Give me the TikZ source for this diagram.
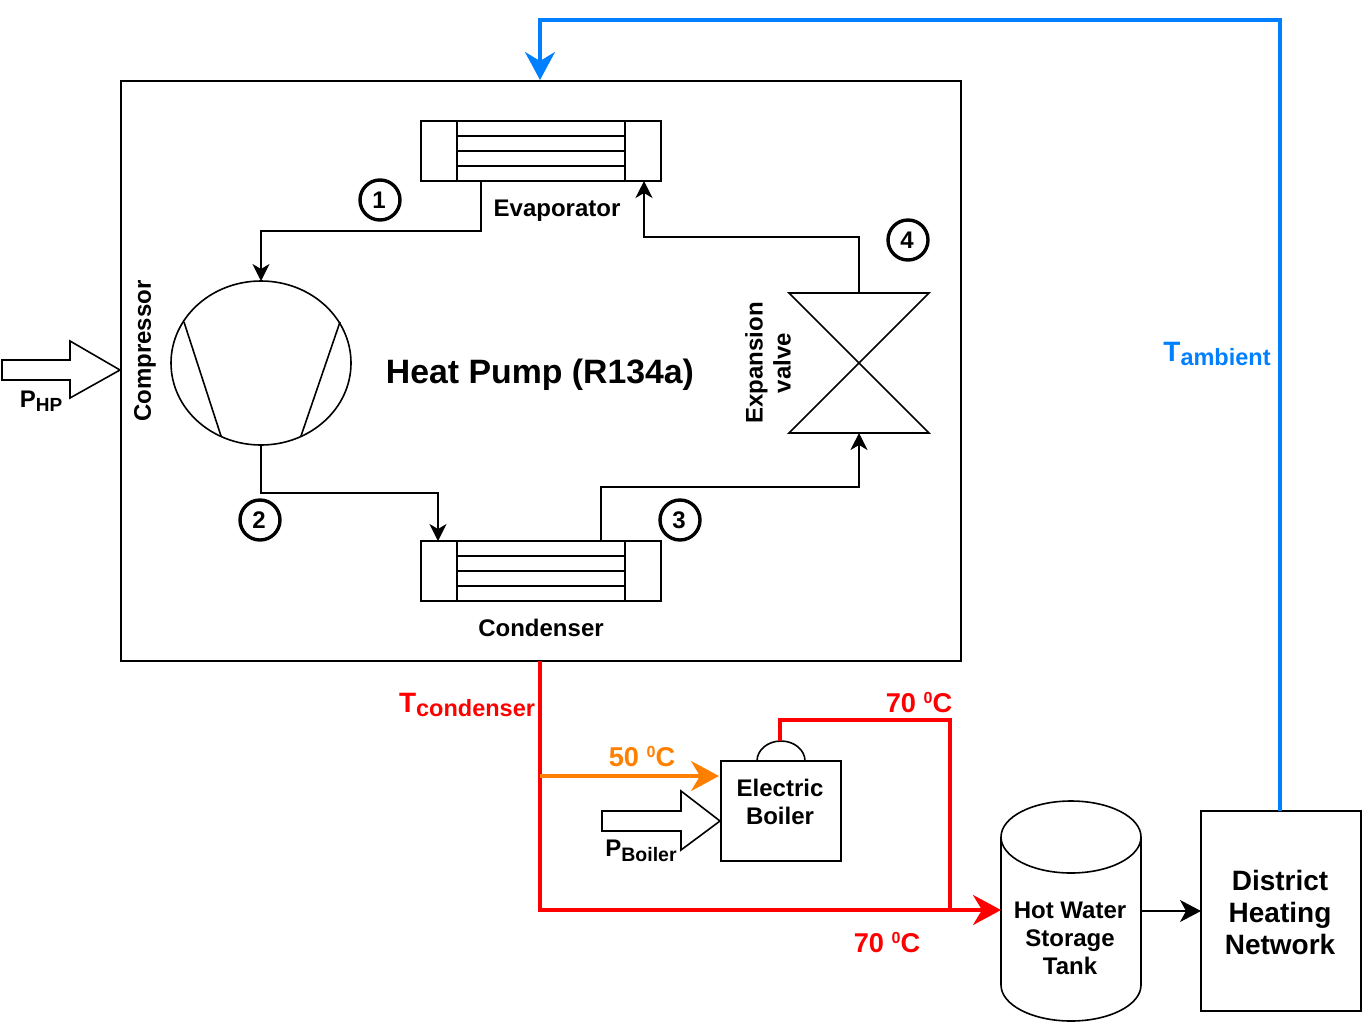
\documentclass[tikz,border=0pt]{standalone}
\usepackage{fontspec}
\setmainfont{Liberation Sans}
\usetikzlibrary{arrows.meta, shapes.geometric}
\definecolor{hotred}{HTML}{FF0000}
\definecolor{warmorange}{HTML}{FF8000}
\definecolor{coldblue}{HTML}{007FFF}
\newcommand{\symsub}[4]{{\fontsize{#1}{#1}\selectfont\bfseries #2}\lower4.5pt\hbox{\fontsize{#3}{#3}\selectfont\bfseries #4}}
\newcommand{\degtxt}[1]{{\fontsize{27.2}{28}\selectfont\bfseries #1 \raisebox{9pt}{\fontsize{16}{16}\selectfont\bfseries 0}C}}
\tikzset{
  wire/.style={line width=1.6pt, line join=miter},
  tipsmall/.style={-{Stealth[length=17pt, width=17pt, inset=5pt]}},
  tipmid/.style={-{Stealth[length=21pt, width=22pt, inset=6pt]}},
  tipbig/.style={-{Stealth[length=28pt, width=30pt, inset=9pt]}},
  pipe/.style={line width=3.6pt, miter limit=10},
  unit/.style={draw, line width=1.6pt, inner sep=0pt, outer sep=0pt, align=center},
  ghost/.style={inner sep=0pt, outer sep=0pt},
  lbl/.style={inner sep=0pt, align=center, font=\fontsize{24}{28}\selectfont\bfseries},
  statept/.style={circle, draw, line width=3.4pt, minimum size=40pt, inner sep=0pt, font=\fontsize{24}{24}\selectfont\bfseries},
}
\begin{document}
\begin{tikzpicture}[x=1pt, y=-1pt]
        \useasboundingbox (0,0) rectangle (1364,1026);
        % Heat pump frame
        \node[unit, minimum width=840, minimum height=580] (hpbox) at (541,371) {};
        \node[lbl, font=\fontsize{33.8}{36}\selectfont\bfseries] (hptitle) at (540,375) {Heat Pump (R134a)};
        % Evaporator
        \node[unit, minimum width=240, minimum height=60] (evap) at (541,151) {};
        \draw[wire] (457,121) -- (457,181);
        \draw[wire] (625,121) -- (625,181);
        \foreach \y in {136,151,166} {
          \draw[wire] (457,\y) -- (625,\y);
        }
        \coordinate (evapout) at (481,181);
        \coordinate (evapin) at (645,181);
        \node[lbl] (evaplbl) at (557,211) {Evaporator};
        % Condenser
        \node[unit, minimum width=240, minimum height=60] (cond) at (541,571) {};
        \draw[wire] (457,541) -- (457,601);
        \draw[wire] (625,541) -- (625,601);
        \foreach \y in {556,571,586} {
          \draw[wire] (457,\y) -- (625,\y);
        }
        \coordinate (condin) at (438,541);
        \coordinate (condout) at (601,541);
        \node[lbl] (condlbl) at (541,628) {Condenser};
        % Compressor
        \node[unit, ellipse, minimum width=180, minimum height=164] (comp) at (261,363) {};
        \draw[wire] (184,322) -- (221,436);
        \draw[wire] (340,322) -- (301,436);
        \node[lbl, rotate=90] (complbl) at (145,351) {Compressor};
        % Expansion valve
        \node[ghost, minimum width=140, minimum height=140] (valve) at (859,363) {};
        \draw[wire] (789,293) -- (929,293) -- (789,433) -- (929,433) -- cycle;
        \node[lbl, rotate=90] (valvelbl) at (768,363) {Expansion\\valve};
        % Refrigerant loop
        \draw[wire, tipsmall] (evapout) -- (481,231) -- (261,231) -- (comp.north);
        \draw[wire, tipsmall] (comp.south) -- (261,493) -- (438,493) -- (condin);
        \draw[wire, tipsmall] (condout) -- (601,487) -- (859,487) -- (valve.south);
        \draw[wire, tipsmall] (valve.north) -- (859,237) -- (644,237) -- (evapin -| 644,0);
        % State points
        \node[statept] (st1) at (380,200) {\kern-2pt 1};
        \node[statept] (st2) at (260,520) {\kern-2pt 2};
        \node[statept] (st3) at (680,520) {\kern-2pt 3};
        \node[statept] (st4) at (908,240) {\kern-2pt 4};
        % Power inputs
        \draw[wire, fill=white] (2,360) -- (70,360) -- (70,341) -- (120,370) -- (70,398) -- (70,380) -- (2,380) -- cycle;
        \node[lbl] (phplbl) at (41,401) {\symsub{24}{P}{19}{HP}};
        \draw[wire, fill=white] (602,811) -- (681,811) -- (681,791) -- (720,821) -- (681,850) -- (681,831) -- (602,831) -- cycle;
        \node[lbl] (pboilerlbl) at (641,851) {\symsub{24}{P}{19.5}{Boiler}};
        % Boiler, tank and network
        \node[unit, minimum width=120, minimum height=100] (boiler) at (781,811) {};
        \node[lbl] (boilerlbl) at (780,802) {Electric\\Boiler};
        \draw[wire] (757,761) arc[start angle=180, end angle=0, x radius=24pt, y radius=20pt];
        \coordinate (dome) at (780,741);
        \node[ghost, minimum width=140, minimum height=220] (tank) at (1071,911) {};
        \draw[wire] (1001,837) arc[start angle=180, end angle=-180, x radius=70pt, y radius=36pt];
        \draw[wire] (1001,837) -- (1001,985) arc[start angle=180, end angle=360, x radius=70pt, y radius=36pt] -- (1141,837);
        \node[lbl] (tanklbl) at (1070,938) {Hot Water\\Storage\\Tank};
        \node[unit, minimum width=160, minimum height=200] (dhn) at (1281,911) {};
        \node[lbl, font=\fontsize{28}{32}\selectfont\bfseries] (dhnlbl) at (1280,912) {District\\Heating\\Network};
        \draw[wire, tipmid] (tank.east) -- (dhn.west);
        % Hot water lines
        \draw[pipe, hotred, tipbig] (540,661) -- (540,910) -- (tank.west |- 0,910);
        \draw[pipe, warmorange, tipbig] (540,776) -- (719,776);
        \draw[pipe, hotred] (dome) -- (780,720) -- (950,720) -- (950,910);
        % Ambient line
        \draw[pipe, coldblue, tipbig] (dhn.north -| 1280,0) -- (1280,20) -- (540,20) -- (540,80);
        % Temperatures
        \node[lbl, hotred] (tcond) at (467,705) {\symsub{28}{T}{23.5}{condenser}};
        \node[lbl, coldblue] (tamb) at (1217,354) {\symsub{28}{T}{23.5}{ambient}};
        \node[lbl, warmorange] (t50) at (642,757) {\degtxt{50}};
        \node[lbl, hotred] (t70top) at (919,703) {\degtxt{70}};
        \node[lbl, hotred] (t70low) at (887,943) {\degtxt{70}};
\end{tikzpicture}
\end{document}
